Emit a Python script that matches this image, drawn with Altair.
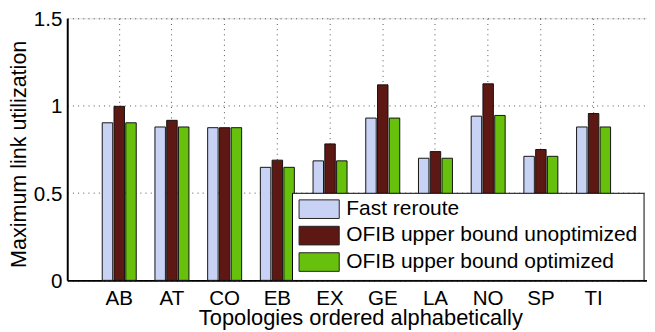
import altair as alt
import pandas as pd

topologies = ["AB", "AT", "CO", "EB", "EX", "GE", "LA", "NO", "SP", "TI"]
fast_reroute = [0.902, 0.878, 0.874, 0.647, 0.684, 0.929, 0.699, 0.940, 0.710, 0.878]
ofib_unoptimized = [0.996, 0.916, 0.874, 0.688, 0.781, 1.119, 0.737, 1.125, 0.749, 0.955]
ofib_optimized = [0.902, 0.878, 0.874, 0.647, 0.684, 0.929, 0.699, 0.944, 0.710, 0.878]
series_names = ["Fast reroute", "OFIB upper bound unoptimized", "OFIB upper bound optimized"]
series_colors = ["#c8d2f5", "#5e1814", "#66c00c"]
y_ticks = [0, 0.5, 1, 1.5]

rows = []
for i, t in enumerate(topologies):
    for name, vals in zip(series_names, [fast_reroute, ofib_unoptimized, ofib_optimized]):
        rows.append({"topology": t, "series": name, "value": vals[i]})
df = pd.DataFrame(rows)

FONT = "Liberation Sans"
rect_path = "M-1,-1L3.32,-1L3.32,1L-1,1Z"

chart = alt.Chart(df).mark_bar(stroke="#111111", strokeWidth=1).encode(
    x=alt.X(
        "topology:N",
        sort=topologies,
        scale=alt.Scale(paddingInner=0.355, paddingOuter=0.6775, align=0.49),
        axis=alt.Axis(
            title="Topologies ordered alphabetically",
            labelAngle=0,
            ticks=False,
            tickSize=0,
            labelPadding=25,
            labelBaseline="alphabetic",
            labelFontSize=21,
            labelFont=FONT,
            labelColor="#000000",
            titleFont=FONT,
            titleFontSize=22.3,
            titleFontWeight="normal",
            titleColor="#000000",
            titleX=299.3,
            titleY=45,
            titleBaseline="alphabetic",
            grid=True,
            gridDash=[1, 4.3],
            gridColor="#000000",
            gridOpacity=0.7,
            domainColor="#000000",
            domainWidth=2,
        ),
    ),
    xOffset=alt.XOffset(
        "series:N",
        sort=series_names,
        scale=alt.Scale(paddingInner=0.11, paddingOuter=0),
    ),
    y=alt.Y(
        "value:Q",
        scale=alt.Scale(domain=[0, 1.5], nice=False),
        axis=alt.Axis(
            values=y_ticks,
            format="~g",
            title="Maximum link utilization",
            ticks=False,
            tickSize=0,
            labelPadding=5.5,
            labelBaseline="alphabetic",
            labelOffset=7.5,
            labelFontSize=21,
            labelFont=FONT,
            labelColor="#000000",
            titleFont=FONT,
            titleFontSize=22,
            titleFontWeight="normal",
            titleColor="#000000",
            titleX=-50,
            titleY=138.4,
            titleBaseline="middle",
            grid=True,
            gridDash=[1, 4.3],
            gridColor="#000000",
            gridOpacity=0.7,
            domainColor="#000000",
            domainWidth=2,
        ),
    ),
    color=alt.Color(
        "series:N",
        sort=series_names,
        scale=alt.Scale(domain=series_names, range=series_colors),
        legend=alt.Legend(
            title=None,
            orient="none",
            legendX=229.5,
            legendY=178.2,
            strokeColor="#000000",
            fillColor="#ffffff",
            padding=6,
            cornerRadius=0,
            symbolType=rect_path,
            symbolSize=361,
            symbolStrokeColor="#222222",
            symbolStrokeWidth=1,
            symbolOpacity=1,
            labelFont=FONT,
            labelFontSize=21.4,
            labelColor="#000000",
            labelOffset=28,
            labelLimit=400,
            rowPadding=3,
        ),
    ),
).properties(
    width=592,
    height=267.6,
    autosize=alt.AutoSizeParams(type="none"),
    padding={"left": 60.5, "top": 7.1, "right": 0, "bottom": 50},
).configure_view(stroke=None).configure(background="#ffffff")

chart.save("out.html", embed_options={"renderer": "svg", "actions": False})
